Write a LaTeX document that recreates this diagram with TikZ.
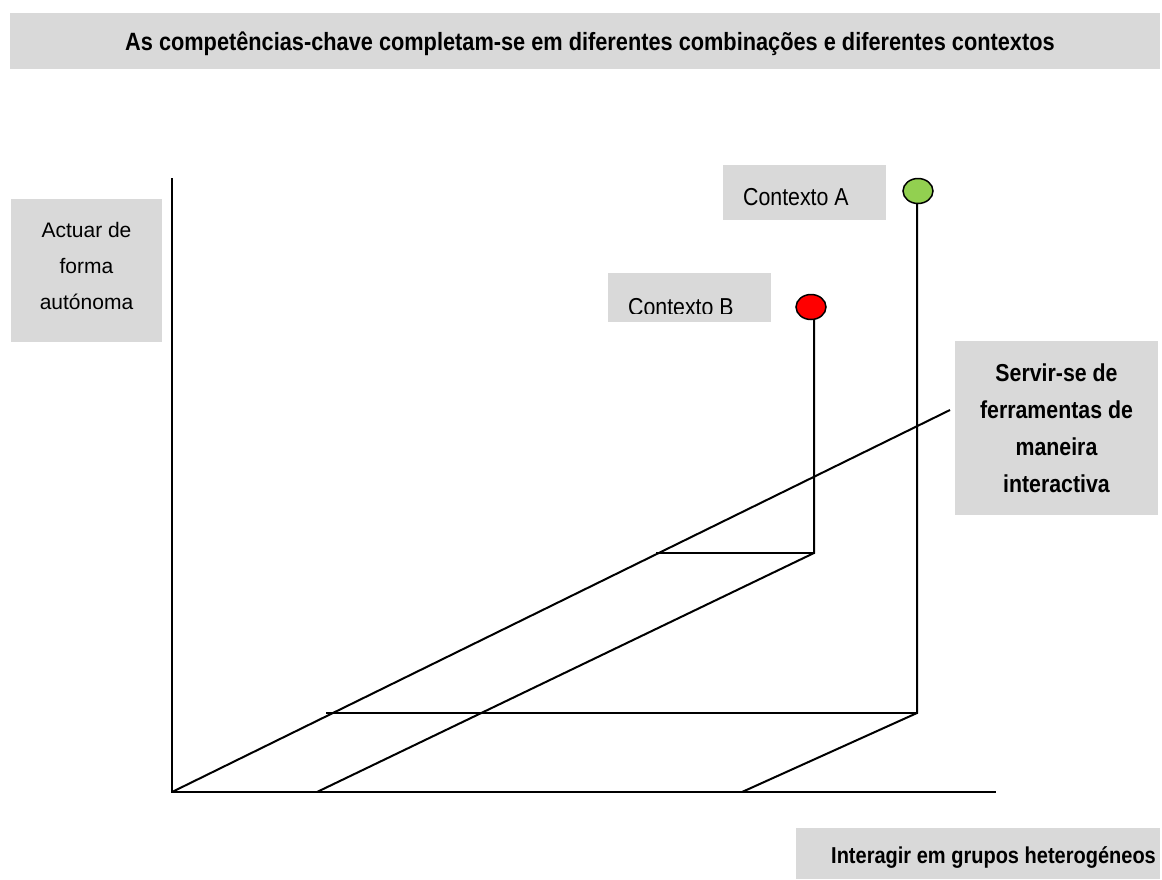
\documentclass[tikz,border=0pt]{standalone}
\usepackage{fontspec}
\usetikzlibrary{shapes.geometric}
\setmainfont{Liberation Sans}
\newfontfamily\narrowfont[FakeStretch=0.87]{Liberation Sans}
\definecolor{boxgray}{HTML}{D9D9D9}
\definecolor{dotgreen}{HTML}{92D050}

\begin{document}
\begin{tikzpicture}[x=1pt, y=-1pt,
	greybox/.style={
		fill=boxgray, rectangle, inner sep=0pt, align=center
	},
	lbl/.style={
		inner sep=0pt, font=\narrowfont\fontsize{24.5}{30}\selectfont
	},
	boldlbl/.style={
		inner sep=0pt, font=\narrowfont\bfseries\fontsize{24}{37}\selectfont
	},
	dot/.style={
		draw, line width=1.5pt, ellipse, inner sep=0pt,
		minimum width=30pt, minimum height=25pt
	},
	axis/.style={line width=2.4pt},
	edge/.style={line width=2pt},
	]
	\useasboundingbox (0,0) rectangle (1162,879);
	
	% grey label boxes
	\node[greybox, minimum width=1150pt, minimum height=56pt] (title) at (585,41) {};
	\node[boldlbl, anchor=base west, font=\narrowfont\bfseries\fontsize{25}{30}\selectfont] (titletxt) at (125,50)
		{As competências-chave completam-se em diferentes combinações e diferentes contextos};
	\node[greybox, minimum width=151pt, minimum height=143pt] (auto) at (86.5,270.5) {};
	\node[inner sep=0pt, align=center, font=\fontsize{21}{36}\selectfont] (autotxt) at (86.5,266)
		{Actuar de\\forma\\autónoma};
	\node[greybox, minimum width=203pt, minimum height=174pt,
		font=\narrowfont\bfseries\fontsize{24.5}{37}\selectfont] (tools) at (1056.5,428)
		{Servir-se de\\ferramentas de\\maneira\\interactiva};
	\node[greybox, minimum width=364pt, minimum height=51pt] (group) at (978,853.5) {};
	\node[boldlbl, anchor=base west, font=\narrowfont\bfseries\fontsize{23}{30}\selectfont] (grouptxt) at (831,863)
		{Interagir em grupos heterogéneos};
	\node[greybox, minimum width=163pt, minimum height=55pt] (boxA) at (804.5,192.5) {};
	\node[lbl, anchor=base west] (txtA) at (743,205) {Contexto A};
	\node[greybox, minimum width=163pt, minimum height=49pt] (boxB) at (689.5,297.5) {};
	\begin{scope}
		\clip (boxB.north west) rectangle (771,313);
		\node[lbl, anchor=base west] (txtB) at (628,315) {Contexto B};
	\end{scope}
	
	% axes and context paths
	\coordinate (O)    at (172,792);
	\coordinate (ytop) at (172,178);
	\coordinate (xend) at (996,792);
	\coordinate (zend) at (950,410);
	\coordinate (b0)   at (317,792);
	\coordinate (b1)   at (814,553);
	\coordinate (b2)   at (656,553);
	\coordinate (a0)   at (742,792);
	\coordinate (a1)   at (917,713);
	\coordinate (a2)   at (326,713);
	\coordinate (pA)   at (918,191);
	\coordinate (pB)   at (811,307);
	
	\draw[axis] (ytop) -- (O) -- (xend);
	\draw[edge] (O) -- (zend);
	\draw[edge] (b0) -- (b1) -- (b1 |- pB);
	\draw[edge] (b2) -- (b1);
	\draw[edge] (a0) -- (a1) -- (a1 |- pA);
	\draw[edge] (a2) -- (a1);
	
	\node[dot, fill=dotgreen] (dotA) at (pA) {};
	\node[dot, fill=red]      (dotB) at (pB) {};
	
\end{tikzpicture}
\end{document}
